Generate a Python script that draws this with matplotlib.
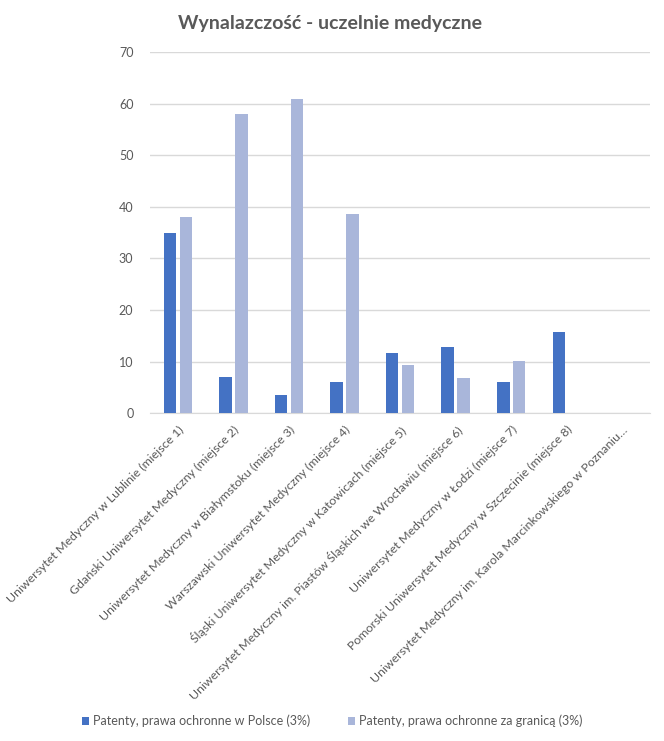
import matplotlib
matplotlib.use('Agg')
import matplotlib.pyplot as plt
import numpy as np

categories = [
    'Uniwersytet Medyczny w Lublinie (miejsce 1)',
    'Gdański Uniwersytet Medyczny (miejsce 2)',
    'Uniwersytet Medyczny w Białymstoku (miejsce 3)',
    'Warszawski Uniwersytet Medyczny (miejsce 4)',
    'Śląski Uniwersytet Medyczny w Katowicach (miejsce 5)',
    'Uniwersytet Medyczny im. Piastów Śląskich we Wrocławiu (miejsce 6)',
    'Uniwersytet Medyczny w Łodzi (miejsce 7)',
    'Pomorski Uniwersytet Medyczny w Szczecinie (miejsce 8)',
    'Uniwersytet Medyczny im. Karola Marcinkowskiego w Poznaniu…',
]
patenty_polska = [35, 7, 3.5, 6, 11.7, 12.8, 6, 15.7, 0]
patenty_granica = [38, 58, 61, 38.7, 9.3, 6.8, 10.1, 0, 0]
series_names = ['Patenty, prawa ochronne w Polsce (3%)',
                'Patenty, prawa ochronne za granicą (3%)']
yticks = [0, 10, 20, 30, 40, 50, 60, 70]

plt.rcParams['font.family'] = ['Lato', 'DejaVu Sans']
text_col = '#595959'

fig = plt.figure(figsize=(6.64, 7.41), dpi=100)
ax = fig.add_axes([0.226, 0.4426, 0.753, 0.4868])

x = np.arange(len(categories))
w = 0.225
ax.bar(x - w / 2 - 0.03, patenty_polska, w, color='#4472C4', label=series_names[0], zorder=3)
ax.bar(x + w / 2 + 0.03, patenty_granica, w, color='#A9B6DA', label=series_names[1], zorder=3)

ax.set_xlim(-0.5, len(categories) - 0.5)
ax.set_ylim(0, 70)
ax.set_yticks(yticks)
ax.yaxis.grid(True, color='#D9D9D9', linewidth=1, zorder=0)
for s in ['top', 'right', 'left']:
    ax.spines[s].set_visible(False)
ax.spines['bottom'].set_color('#D9D9D9')
ax.tick_params(axis='both', length=0, colors=text_col, labelsize=9)
ax.tick_params(axis='y', pad=12)
ax.tick_params(axis='x', pad=8)
ax.set_xticks(x)
ax.set_xticklabels(categories, rotation=45, ha='right', va='top',
                   rotation_mode='anchor', color=text_col, fontsize=8.9)

fig.text(0.497, 0.968, 'Wynalazczość - uczelnie medyczne', ha='center', va='center',
         fontsize=14, fontweight='bold', color=text_col)

fig.legend(loc='center', bbox_to_anchor=(0.5, 0.027), ncol=2, frameon=False,
           handlelength=0.6, handleheight=0.6, handletextpad=0.3, columnspacing=3,
           fontsize=9, labelcolor=text_col)

fig.savefig('out.png', dpi=100)
